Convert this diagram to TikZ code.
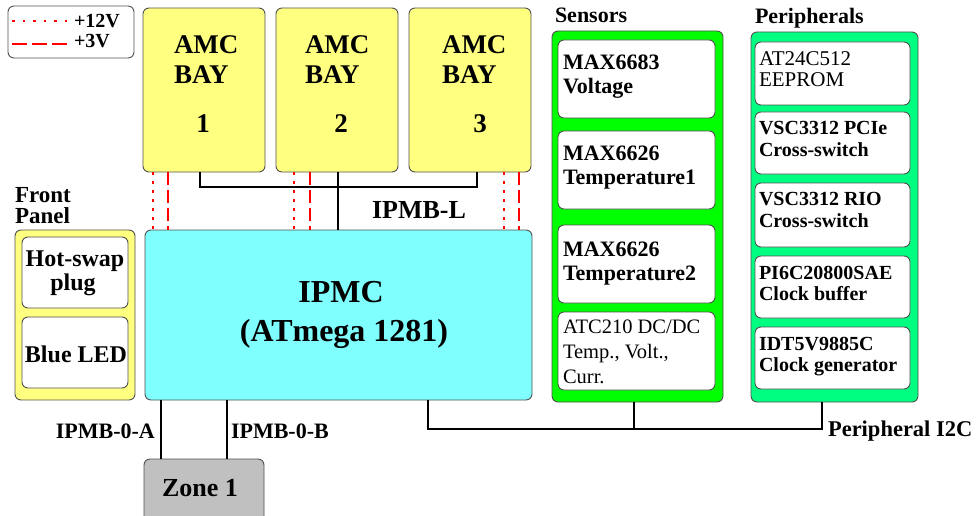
\documentclass[tikz,border=0pt]{standalone}
\usepackage{fontspec}
\setmainfont{LiberationSerif}[Extension=.ttf, UprightFont=*-Regular, BoldFont=*-Bold, ItalicFont=*-Italic, BoldItalicFont=*-BoldItalic]
\usetikzlibrary{calc}
\definecolor{amcyellow}{HTML}{FFFF80}
\definecolor{ipmccyan}{HTML}{80FFFF}
\definecolor{sensgreen}{HTML}{00FF00}
\definecolor{perigreen}{HTML}{00FF80}
\definecolor{zonegray}{HTML}{C0C0C0}
\definecolor{edgegray}{HTML}{505050}
\definecolor{pwr}{HTML}{FF0000}
\newcommand{\fsz}[1]{\fontsize{#1}{#1}\selectfont}
\begin{document}
\begin{tikzpicture}[x=1pt,y=-1pt,
  box/.style={draw=edgegray, line width=0.9pt, rounded corners=6pt, inner sep=0pt, outer sep=0pt, anchor=north west},
  bus/.style={line width=2pt, black},
  vtwelve/.style={draw=pwr, line width=2.2pt, dash pattern=on 3pt off 6pt},
  vthree/.style={draw=pwr, line width=2.2pt, dash pattern=on 13pt off 5pt},
  lab/.style={inner sep=0pt, outer sep=0pt, anchor=base west},
  labc/.style={inner sep=0pt, outer sep=0pt, anchor=base},
  tleg/.style={font=\fsz{20}\bfseries},
  tamc/.style={font=\fsz{27}\bfseries},
  tipmc/.style={font=\fsz{32}\bfseries},
  tmid/.style={font=\fsz{22}\bfseries},
  tfp/.style={font=\fsz{24}\bfseries},
  tsm/.style={font=\fsz{20}\bfseries},
  treg/.style={font=\fsz{20.5}},
]
\useasboundingbox (0,0) rectangle (979,516);
\clip (0,0) rectangle (979,516);
\fill[white] (0,0) rectangle (979,516);

% legend
\node[box, fill=white, minimum width=126pt, minimum height=52pt] (legend) at (8,6) {};
\coordinate (l12a) at (12,21); \coordinate (l12b) at (67,21);
\coordinate (l3a) at (12,44); \coordinate (l3b) at (67,44);
\draw[vtwelve, dash pattern=on 2.5pt off 8pt] (l12a) -- (l12b);
\draw[vthree, dash pattern=on 15pt off 5pt] (l3a) -- (l3b);
\node[lab, tleg] (leg12) at (74,28) {+12V};
\node[lab, tleg] (leg3) at (74,48) {+3V};

% AMC bays
\node[box, fill=amcyellow, minimum width=122pt, minimum height=164pt] (amc1) at (143,8) {};
\node[box, fill=amcyellow, minimum width=122pt, minimum height=164pt] (amc2) at (276,8) {};
\node[box, fill=amcyellow, minimum width=122pt, minimum height=164pt] (amc3) at (409,8) {};

% IPMC, front panel
\node[box, fill=ipmccyan, minimum width=387pt, minimum height=170pt] (ipmc) at (145,230) {};
\node[box, fill=amcyellow, minimum width=120pt, minimum height=170pt] (fp) at (15,230) {};
\node[box, fill=white, minimum width=106pt, minimum height=71pt] (hsw) at (22,237) {};
\node[box, fill=white, minimum width=106pt, minimum height=71pt] (led) at (22,317) {};

% sensors
\node[box, fill=sensgreen, minimum width=171pt, minimum height=371pt] (sens) at (552,31) {};
\node[box, fill=white, minimum width=157pt, minimum height=78pt] (s1) at (558,40) {};
\node[box, fill=white, minimum width=157pt, minimum height=78pt] (s2) at (558,131) {};
\node[box, fill=white, minimum width=157pt, minimum height=78pt] (s3) at (558,225) {};
\node[box, fill=white, minimum width=157pt, minimum height=78pt] (s4) at (558,312) {};

% peripherals
\node[box, fill=perigreen, minimum width=167pt, minimum height=370pt] (peri) at (751,32) {};
\node[box, fill=white, minimum width=155pt, minimum height=63pt] (p1) at (755,42) {};
\node[box, fill=white, minimum width=155pt, minimum height=62pt] (p2) at (755,112) {};
\node[box, fill=white, minimum width=155pt, minimum height=64pt] (p3) at (755,183) {};
\node[box, fill=white, minimum width=155pt, minimum height=62pt] (p4) at (755,256) {};
\node[box, fill=white, minimum width=155pt, minimum height=62pt] (p5) at (755,327) {};

% zone
\node[box, fill=zonegray, minimum width=120pt, minimum height=80pt] (zone) at (144,459) {};

% IPMB-L bus
\coordinate (busl) at (200,187);
\coordinate (busr) at (477,187);
\draw[bus] (amc1.south -| busl) -- (busl) -- (busr) -- (amc3.south -| busr);
\coordinate (busm) at (338,187);
\draw[bus] (amc2.south -| busm) -- (ipmc.north -| busm);

% power lines
\draw[vtwelve] ([xshift=10pt]amc1.south west) -- ([xshift=10pt]amc1.south west |- ipmc.north);
\draw[vthree]  ([xshift=25pt]amc1.south west) -- ([xshift=25pt]amc1.south west |- ipmc.north);
\draw[vtwelve] ([xshift=18pt]amc2.south west) -- ([xshift=18pt]amc2.south west |- ipmc.north);
\draw[vthree]  ([xshift=34pt]amc2.south west) -- ([xshift=34pt]amc2.south west |- ipmc.north);
\draw[vtwelve] ([xshift=-27pt]amc3.south east) -- ([xshift=-27pt]amc3.south east |- ipmc.north);
\draw[vthree]  ([xshift=-12pt]amc3.south east) -- ([xshift=-12pt]amc3.south east |- ipmc.north);

% peripheral I2C
\coordinate (i2cl) at (428,429);
\coordinate (i2cm) at (634,429);
\coordinate (i2cr) at (822,429);
\draw[bus] (ipmc.south -| i2cl) -- (i2cl) -- (i2cr) -- (peri.south -| i2cr);
\draw[bus] (sens.south -| i2cm) -- (i2cm);

% IPMB-0
\coordinate (ipa) at (161,400);
\coordinate (ipb) at (227,400);
\draw[line width=1.6pt] (ipmc.south -| ipa) -- (zone.north -| ipa);
\draw[line width=1.6pt] (ipmc.south -| ipb) -- (zone.north -| ipb);

% texts
\node[lab, tamc] (a1a) at (174,54) {AMC};
\node[lab, tamc] (a1b) at (174,84) {BAY};
\node[labc, tamc] (a1c) at (203,132) {1};
\node[lab, tamc] (a2a) at (305,54) {AMC};
\node[lab, tamc] (a2b) at (305,84) {BAY};
\node[labc, tamc] (a2c) at (341,132) {2};
\node[lab, tamc] (a3a) at (442,54) {AMC};
\node[lab, tamc] (a3b) at (442,84) {BAY};
\node[labc, tamc] (a3c) at (480,132) {3};

\node[lab, font=\fsz{26}\bfseries] (ipmbl) at (372,218) {IPMB-L};
\node[labc, tipmc] (ipmca) at (341,302) {IPMC};
\node[labc, tipmc] (ipmcb) at (344,341) {(ATmega 1281)};

\node[lab, font=\fsz{23}\bfseries] (fpa) at (15,202) {Front};
\node[lab, font=\fsz{23}\bfseries] (fpb) at (15,223) {Panel};
\node[labc, tfp] (hswa) at (75,266) {Hot-swap};
\node[labc, tfp] (hswb) at (73,290) {plug};
\node[labc, tfp] (leda) at (76,362) {Blue LED};

\node[lab, tmid] (senslab) at (555,23) {Sensors};
\node[lab, tmid] (perilab) at (755,24) {Peripherals};

\node[lab, tmid] (s1a) at (563,70) {MAX6683};
\node[lab, tmid] (s1b) at (563,94) {Voltage};
\node[lab, tmid] (s2a) at (563,160) {MAX6626};
\node[lab, tmid] (s2b) at (563,184) {Temperature1};
\node[lab, tmid] (s3a) at (563,256) {MAX6626};
\node[lab, tmid] (s3b) at (563,280) {Temperature2};
\node[lab, treg] (s4a) at (563,333) {ATC210 DC/DC};
\node[lab, treg] (s4b) at (563,358) {Temp., Volt.,};
\node[lab, treg] (s4c) at (563,383) {Curr.};

\node[lab, font=\fsz{21}] (p1a) at (759,66) {AT24C512};
\node[lab, font=\fsz{21}] (p1b) at (759,87) {EEPROM};
\node[lab, tsm] (p2a) at (759,135) {VSC3312 PCIe};
\node[lab, tsm] (p2b) at (759,156) {Cross-switch};
\node[lab, tsm] (p3a) at (759,205) {VSC3312 RIO};
\node[lab, tsm] (p3b) at (759,227) {Cross-switch};
\node[lab, tsm] (p4a) at (759,279) {PI6C20800SAE};
\node[lab, tsm] (p4b) at (759,300) {Clock buffer};
\node[lab, tsm] (p5a) at (759,350) {IDT5V9885C};
\node[lab, tsm] (p5b) at (759,371) {Clock generator};

\node[inner sep=0pt, anchor=base east, tmid] (ipmb0a) at (155,438) {IPMB-0-A};
\node[lab, tmid] (ipmb0b) at (231,438) {IPMB-0-B};
\node[lab, font=\fsz{22.5}\bfseries] (pi2c) at (828,436) {Peripheral I2C};
\node[labc, font=\fsz{26}\bfseries] (zonet) at (200,496) {Zone 1};
\end{tikzpicture}
\end{document}
